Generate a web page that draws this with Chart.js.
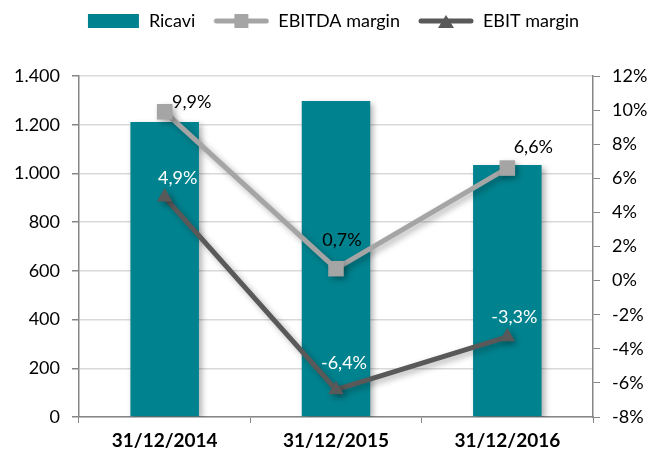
<!DOCTYPE html>
<html>
<head>
<meta charset="utf-8">
<script src="https://cdn.jsdelivr.net/npm/chart.js@4.4.0/dist/chart.umd.min.js"></script>
<style>
  html, body { margin: 0; padding: 0; background: #fff; }
</style>
</head>
<body>
<canvas id="chart" width="651" height="452"></canvas>
<script>
// data
const categories = ["31/12/2014", "31/12/2015", "31/12/2016"];
const ricavi = [1211, 1297, 1035];
const ebitdaMargin = [9.9, 0.7, 6.6];
const ebitMargin = [4.9, -6.4, -3.3];
const leftTicks = [0, 200, 400, 600, 800, 1000, 1200, 1400];
const rightTicks = [-8, -6, -4, -2, 0, 2, 4, 6, 8, 10, 12];

const TEAL = "#00838F";
const LIGHT = "#A5A5A5";
const DARK = "#595959";
const AXIS = "#868686";
const FONT = "Lato";

function fmtThousands(v) {
  return String(v).replace(/\B(?=(\d{3})+(?!\d))/g, ".");
}
function fmtPct(v) {
  return v.toFixed(1).replace(".", ",") + "%";
}

// legend symbols
function legendImg(kind, color) {
  const c = document.createElement("canvas");
  c.width = 68; c.height = 18;
  const g = c.getContext("2d");
  if (kind === "box") {
    g.fillStyle = color;
    g.fillRect(16, 2, 51, 14);
  } else {
    g.strokeStyle = color;
    g.lineWidth = 5;
    g.lineCap = "round";
    g.beginPath(); g.moveTo(15, 9); g.lineTo(65, 9); g.stroke();
    g.fillStyle = color;
    if (kind === "square") {
      g.fillRect(33, 2, 14, 14);
    } else {
      g.beginPath(); g.moveTo(40, 3); g.lineTo(48, 16); g.lineTo(32, 16); g.closePath(); g.fill();
    }
  }
  return c;
}
const legendSymbols = [legendImg("box", TEAL), legendImg("square", LIGHT), legendImg("triangle", DARK)];

const legendGap = {
  id: "legendGap",
  beforeInit(chart) {
    const fit = chart.legend.fit;
    chart.legend.fit = function () { fit.call(this); this.height += 36; };
  }
};

const shadow = {
  id: "shadow",
  beforeDatasetDraw(chart) {
    const c = chart.ctx;
    c.save();
    c.shadowColor = "rgba(0,0,0,0.3)";
    c.shadowBlur = 6;
    c.shadowOffsetX = 3;
    c.shadowOffsetY = 3;
  },
  afterDatasetDraw(chart) { chart.ctx.restore(); }
};

const pointLabels = {
  id: "pointLabels",
  afterDatasetsDraw(chart, args, opts) {
    const ctx = chart.ctx;
    chart.data.datasets.forEach((ds, i) => {
      const cfg = opts[ds.label];
      if (!cfg) return;
      chart.getDatasetMeta(i).data.forEach((pt, j) => {
        ctx.save();
        ctx.font = "18px " + FONT;
        ctx.fillStyle = cfg.color;
        ctx.textAlign = "center";
        ctx.textBaseline = "middle";
        ctx.fillText(fmtPct(ds.data[j]), pt.x + cfg.dx[j], pt.y + cfg.dy[j]);
        ctx.restore();
      });
    });
  }
};

new Chart(document.getElementById("chart"), {
  data: {
    labels: categories,
    datasets: [
      {
        type: "bar", label: "Ricavi", data: ricavi, yAxisID: "y", order: 3,
        backgroundColor: TEAL, barPercentage: 0.4, categoryPercentage: 1
      },
      {
        type: "line", label: "EBITDA margin", data: ebitdaMargin, yAxisID: "y1", order: 2,
        borderColor: LIGHT, backgroundColor: LIGHT, borderWidth: 5,
        pointStyle: "rect", pointRadius: 11, pointBorderWidth: 0
      },
      {
        type: "line", label: "EBIT margin", data: ebitMargin, yAxisID: "y1", order: 1,
        borderColor: DARK, backgroundColor: DARK, borderWidth: 5,
        pointStyle: "triangle", pointRadius: 9, pointBorderWidth: 0
      }
    ]
  },
  options: {
    responsive: false,
    animation: false,
    layout: { padding: { top: 6, left: 0, right: 0, bottom: 0 } },
    plugins: {
      tooltip: { enabled: false },
      legend: {
        position: "top",
        labels: {
          usePointStyle: true,
          pointStyleWidth: 68,
          padding: 6,
          color: "#000",
          font: { family: FONT, size: 18 },
          generateLabels(chart) {
            return chart.data.datasets.map((ds, i) => ({
              text: ds.label, datasetIndex: i, hidden: false,
              pointStyle: legendSymbols[i], fillStyle: "transparent",
              strokeStyle: "transparent", lineWidth: 0, fontColor: "#000"
            }));
          }
        }
      },
      pointLabels: {
        "EBITDA margin": { color: "#000", dx: [27, 6, 26], dy: [-10, -28, -21] },
        "EBIT margin": { color: "#fff", dx: [13, 8, 7], dy: [-19, -27, -20] }
      }
    },
    scales: {
      x: {
        grid: { display: true, drawOnChartArea: false, tickLength: 6, tickColor: AXIS, offset: true },
        border: { color: AXIS, width: 1.5 },
        ticks: { color: "#000", font: { family: FONT, size: 19, weight: "bold" }, padding: 6, maxRotation: 0 },
        afterFit(s) { s.height = 35; }
      },
      y: {
        position: "left",
        min: 0, max: 1400,
        afterBuildTicks(s) { s.ticks = leftTicks.map(v => ({ value: v })); },
        grid: { color: "#D9D9D9", lineWidth: 1.5, tickLength: 7, tickColor: AXIS },
        border: { color: AXIS, width: 1.5 },
        ticks: { color: "#000", font: { family: FONT, size: 18 }, padding: 12, callback: v => fmtThousands(v) },
        afterFit(s) { s.width = 79; }
      },
      y1: {
        position: "right",
        min: -8, max: 12,
        afterBuildTicks(s) { s.ticks = rightTicks.map(v => ({ value: v })); },
        grid: { drawOnChartArea: false, tickLength: 7, tickColor: AXIS },
        border: { color: AXIS, width: 1.5 },
        ticks: { color: "#000", font: { family: FONT, size: 18 }, padding: 12, callback: v => v + "%" },
        afterFit(s) { s.width = 58; }
      }
    }
  },
  plugins: [legendGap, shadow, pointLabels]
});
</script>
</body>
</html>
